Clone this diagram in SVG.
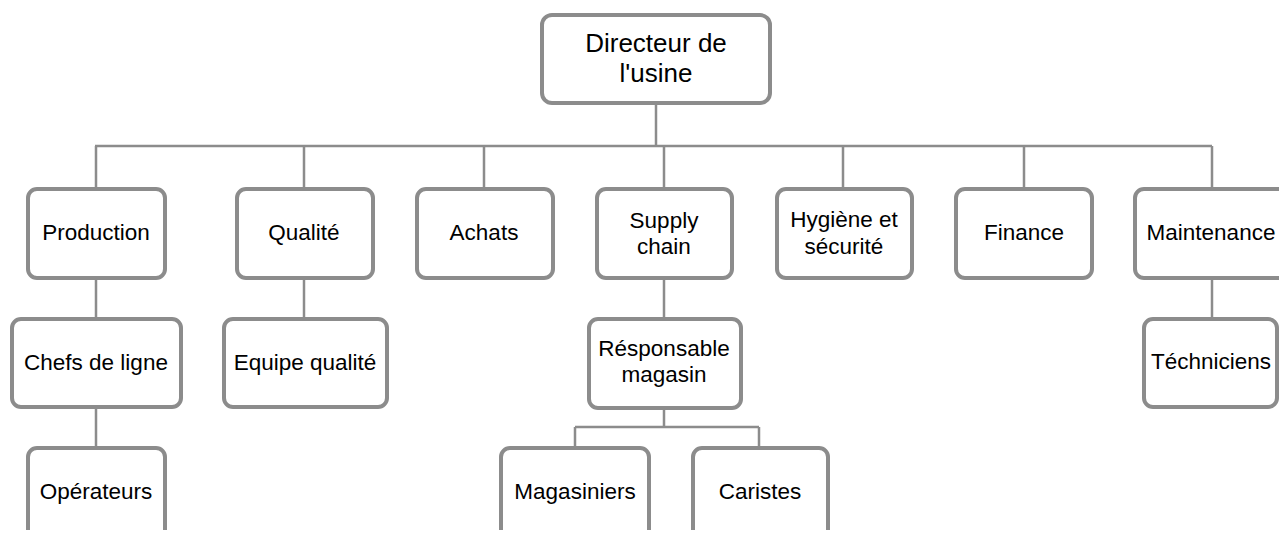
<svg xmlns="http://www.w3.org/2000/svg" width="1279" height="533" viewBox="0 0 1279 533">
<style>
.box{fill:#fff;stroke:#8c8c8c;stroke-width:4}
.ln{stroke:#8c8c8c;stroke-width:2.5;fill:none}
text{font-family:"Liberation Sans",Arial,sans-serif;font-size:22.5px;fill:#000;text-anchor:middle}
.big{font-size:26px}
</style>
<defs>
<clipPath id="page"><rect x="0" y="0" width="1279" height="530"/></clipPath>
</defs>
<g id="connectors" class="ln">
<path d="M656 104V146"/>
<path d="M95 146H1212"/>
<path d="M96 146V187M304 146V187M484 146V187M664 146V187M843 146V187M1024 146V187M1212 146V187"/>
<path d="M96 279V317M96 408V446"/>
<path d="M304 279V317"/>
<path d="M664 279V317M664 409V427M575 427H759M575 427V446M759 427V446"/>
<path d="M1212 279V317"/>
</g>
<g id="directeur"><rect class="box" x="542" y="15" width="228" height="88" rx="10"/><text class="big" x="656" y="52">Directeur de</text><text class="big" x="656" y="82">l'usine</text></g>
<g id="production"><rect class="box" x="28" y="189" width="137" height="89" rx="9"/><text x="96" y="240">Production</text></g>
<g id="qualite"><rect class="box" x="237" y="189" width="136" height="89" rx="9"/><text x="304" y="240">Qualité</text></g>
<g id="achats"><rect class="box" x="417" y="189" width="136" height="89" rx="9"/><text x="484" y="240">Achats</text></g>
<g id="supply"><rect class="box" x="597" y="189" width="135" height="89" rx="9"/><text x="664" y="228">Supply</text><text x="664" y="254">chain</text></g>
<g id="hygiene"><rect class="box" x="777" y="189" width="135" height="89" rx="9"/><text x="844" y="227">Hygiène et</text><text x="844" y="254">sécurité</text></g>
<g id="finance"><rect class="box" x="956" y="189" width="136" height="89" rx="9"/><text x="1024" y="240">Finance</text></g>
<g id="maintenance"><rect class="box" x="1135" y="189" width="160" height="89" rx="9"/><text x="1211" y="240">Maintenance</text></g>
<g id="chefs"><rect class="box" x="12" y="319" width="169" height="88" rx="9"/><text x="96" y="370">Chefs de ligne</text></g>
<g id="equipe"><rect class="box" x="224" y="319" width="163" height="88" rx="9"/><text x="305" y="370">Equipe qualité</text></g>
<g id="responsable"><rect class="box" x="589" y="319" width="152" height="89" rx="9"/><text x="664" y="356">Résponsable</text><text x="664" y="382">magasin</text></g>
<g id="techniciens"><rect class="box" x="1144" y="319" width="133" height="88" rx="9"/><text x="1211" y="369">Téchniciens</text></g>
<g clip-path="url(#page)">
<g id="operateurs"><rect class="box" x="28" y="448" width="137" height="120" rx="9"/><text x="96" y="499">Opérateurs</text></g>
<g id="magasiniers"><rect class="box" x="501" y="448" width="148" height="120" rx="9"/><text x="575" y="499">Magasiniers</text></g>
<g id="caristes"><rect class="box" x="693" y="448" width="135" height="120" rx="9"/><text x="760" y="499">Caristes</text></g>
</g>
</svg>
